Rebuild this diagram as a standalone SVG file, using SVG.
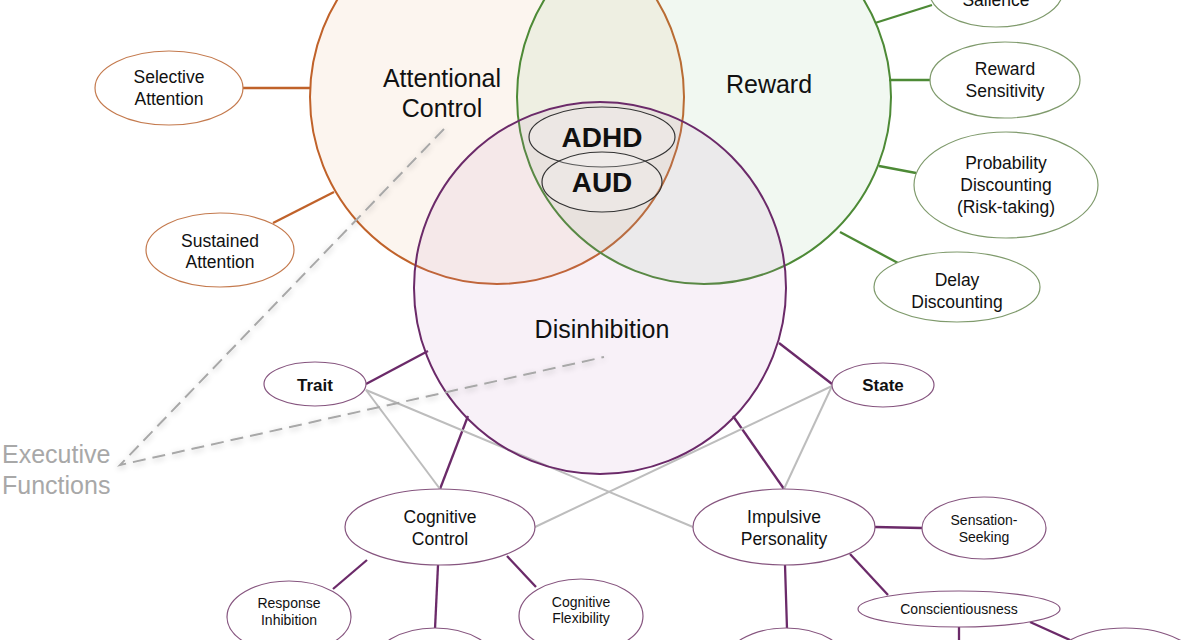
<svg xmlns="http://www.w3.org/2000/svg" width="1200" height="640" viewBox="0 0 1200 640">
<defs>
<filter id="sh" x="-20%" y="-20%" width="140%" height="140%">
<feGaussianBlur in="SourceAlpha" stdDeviation="3"/>
<feOffset dx="0" dy="2" result="b"/>
<feComponentTransfer><feFuncA type="linear" slope="0.25"/></feComponentTransfer>
<feMerge><feMergeNode/><feMergeNode in="SourceGraphic"/></feMerge>
</filter>
</defs>
<style>
text{font-family:"Liberation Sans",Arial,sans-serif;fill:#111;text-anchor:middle}
.big{font-size:25px}
.core{font-size:28px;font-weight:bold}
.m{font-size:17.5px}
.s{font-size:14px}
.b{font-size:17px;font-weight:bold}
.ef{font-size:25px;fill:#a8a8a8;text-anchor:start}
.eo{fill:#fff;stroke:#c47a4e;stroke-width:1.2}
.eg{fill:#fff;stroke:#7f9a6c;stroke-width:1.2}
.ep{fill:#fff;stroke:#86557f;stroke-width:1.2}
.co{stroke:#c0622a;stroke-width:2.3;fill:none}
.cg{stroke:#4d8a36;stroke-width:2.3;fill:none}
.cp{stroke:#6b2a69;stroke-width:2.3;fill:none}
.gr{stroke:#bdbdbd;stroke-width:2;fill:none}
.dash{stroke:#a8a8a8;stroke-width:2;stroke-dasharray:13 7;fill:none}
</style>
<rect width="1200" height="640" fill="#fff"/>

<g id="connectors">
<line class="co" x1="243" y1="88" x2="311" y2="88"/>
<line class="co" x1="273" y1="223" x2="334" y2="192"/>
<line class="cg" x1="875" y1="23" x2="932" y2="5"/>
<line class="cg" x1="889" y1="80" x2="931" y2="80"/>
<line class="cg" x1="879" y1="166" x2="916" y2="173"/>
<line class="cg" x1="840" y1="232" x2="898" y2="263"/>
<line class="cp" x1="366" y1="384" x2="428" y2="351"/>
<line class="cp" x1="832" y1="384" x2="779" y2="343"/>
<line class="cp" x1="468" y1="416" x2="440" y2="489"/>
<line class="cp" x1="733" y1="416" x2="784" y2="489"/>
<line class="gr" x1="366" y1="390" x2="440" y2="489"/>
<line class="gr" x1="366" y1="390" x2="693" y2="527"/>
<line class="gr" x1="832" y1="386" x2="535" y2="527"/>
<line class="gr" x1="832" y1="386" x2="784" y2="489"/>
<line class="cp" x1="367" y1="560" x2="333" y2="589"/>
<line class="cp" x1="438" y1="565" x2="435" y2="629"/>
<line class="cp" x1="507" y1="556" x2="536" y2="587"/>
<line class="cp" x1="875" y1="527" x2="922" y2="528"/>
<line class="cp" x1="785" y1="565" x2="787" y2="629"/>
<line class="cp" x1="850" y1="554" x2="888" y2="595"/>
<line class="cp" x1="959" y1="627" x2="959" y2="645"/>
<line class="cp" x1="1030" y1="622" x2="1070" y2="640"/>
</g>

<g id="circles">
<circle cx="497" cy="97" r="187" fill="#e8a070" fill-opacity="0.11" stroke="#c0622a" stroke-width="2"/>
<circle cx="704" cy="97" r="187" fill="#80c080" fill-opacity="0.11" stroke="#4d8a36" stroke-width="2"/>
<circle cx="600" cy="288" r="186" fill="#c080c0" fill-opacity="0.11" stroke="#6b2a69" stroke-width="2"/>
</g>

<g id="attentional-control"><text class="big" x="442" y="87">Attentional</text><text class="big" x="442" y="117">Control</text></g>
<g id="reward"><text class="big" x="769" y="93">Reward</text></g>
<g id="disinhibition"><text class="big" x="602" y="338">Disinhibition</text></g>

<g id="adhd"><ellipse cx="602" cy="137" rx="73" ry="30" fill="#fff" fill-opacity="0.2" stroke="#333" stroke-width="1.2"/><text class="core" x="602" y="147">ADHD</text></g>
<g id="aud"><ellipse cx="602" cy="182" rx="60" ry="30" fill="#fff" fill-opacity="0.2" stroke="#333" stroke-width="1.2"/><text class="core" x="602" y="192">AUD</text></g>

<g id="dashes" filter="url(#sh)">
<polyline class="dash" points="444,129 120,465 604,357"/>
</g>
<g id="executive-functions"><text class="ef" x="2" y="463">Executive</text><text class="ef" x="2" y="494">Functions</text></g>

<g id="selective-attention"><ellipse class="eo" cx="169" cy="88" rx="74" ry="37"/><text class="m" x="169" y="83">Selective</text><text class="m" x="169" y="105">Attention</text></g>
<g id="sustained-attention"><ellipse class="eo" cx="220" cy="250" rx="74" ry="37"/><text class="m" x="220" y="247">Sustained</text><text class="m" x="220" y="268">Attention</text></g>

<g id="salience"><ellipse class="eg" cx="996" cy="-10" rx="67" ry="37"/><text class="m" x="996" y="6">Salience</text></g>
<g id="reward-sensitivity"><ellipse class="eg" cx="1005" cy="80" rx="75" ry="38"/><text class="m" x="1005" y="75">Reward</text><text class="m" x="1005" y="97">Sensitivity</text></g>
<g id="probability-discounting"><ellipse class="eg" cx="1006" cy="185" rx="92" ry="53"/><text class="m" x="1006" y="169">Probability</text><text class="m" x="1006" y="191">Discounting</text><text class="m" x="1006" y="213">(Risk-taking)</text></g>
<g id="delay-discounting"><ellipse class="eg" cx="957" cy="287" rx="83" ry="35"/><text class="m" x="957" y="286">Delay</text><text class="m" x="957" y="308">Discounting</text></g>

<g id="trait"><ellipse class="ep" cx="315" cy="384" rx="51" ry="22"/><text class="b" x="315" y="391">Trait</text></g>
<g id="state"><ellipse class="ep" cx="883" cy="385" rx="51" ry="22"/><text class="b" x="883" y="391">State</text></g>

<g id="cognitive-control"><ellipse class="ep" cx="440" cy="527" rx="95" ry="38"/><text class="m" x="440" y="523">Cognitive</text><text class="m" x="440" y="545">Control</text></g>
<g id="impulsive-personality"><ellipse class="ep" cx="784" cy="527" rx="91" ry="38"/><text class="m" x="784" y="523">Impulsive</text><text class="m" x="784" y="545">Personality</text></g>

<g id="response-inhibition"><ellipse class="ep" cx="289" cy="617" rx="62" ry="36"/><text class="s" x="289" y="608">Response</text><text class="s" x="289" y="625">Inhibition</text></g>
<g id="cognitive-flexibility"><ellipse class="ep" cx="581" cy="616" rx="62" ry="37"/><text class="s" x="581" y="607">Cognitive</text><text class="s" x="581" y="623">Flexibility</text></g>
<g id="cc-child"><ellipse class="ep" cx="435" cy="665" rx="62" ry="37"/></g>

<g id="sensation-seeking"><ellipse class="ep" cx="984" cy="528" rx="62" ry="31"/><text class="s" x="984" y="525">Sensation-</text><text class="s" x="984" y="542">Seeking</text></g>
<g id="conscientiousness"><ellipse class="ep" cx="959" cy="609" rx="101" ry="18"/><text class="s" x="959" y="614">Conscientiousness</text></g>
<g id="ip-child"><ellipse class="ep" cx="786" cy="665" rx="62" ry="37"/></g>
<g id="c-child"><ellipse class="ep" cx="1125" cy="667" rx="76" ry="39"/></g>
</svg>
